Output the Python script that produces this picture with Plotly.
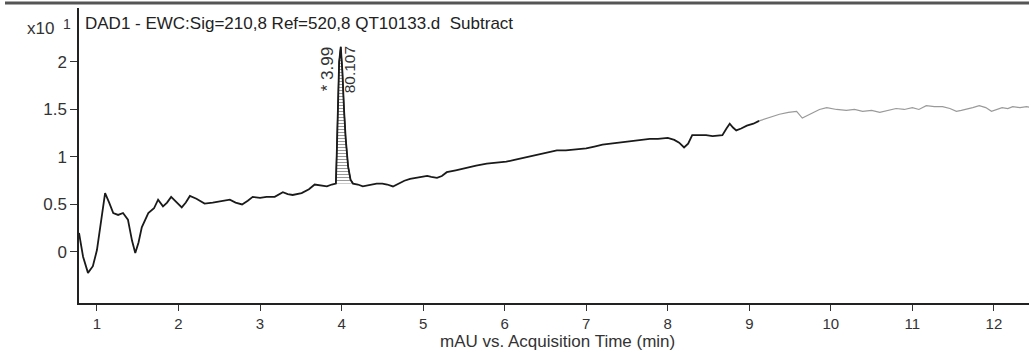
import plotly.graph_objects as go

# Main chromatogram trace (black part), time in min, signal in mAU x10^1
t_black = [0.78, 0.83, 0.89, 0.95, 1.00, 1.05, 1.10, 1.15, 1.20, 1.26, 1.32, 1.38, 1.43, 1.47, 1.51, 1.55,
           1.63, 1.70, 1.75, 1.81, 1.86, 1.91, 1.97, 2.04, 2.09, 2.14, 2.22, 2.32, 2.42, 2.51, 2.63,
           2.70, 2.78, 2.85, 2.91, 3.00, 3.08, 3.18, 3.28, 3.34, 3.40, 3.51, 3.60, 3.67, 3.75, 3.82,
           3.88, 3.93, 3.94, 3.955, 3.97, 3.99, 4.01, 4.03, 4.05, 4.08, 4.11, 4.14, 4.20, 4.26, 4.31,
           4.37, 4.43, 4.50, 4.56, 4.63, 4.70, 4.77, 4.84, 4.91, 4.98, 5.05, 5.10, 5.17, 5.23, 5.29,
           5.40, 5.53, 5.65, 5.78, 5.90, 6.02, 6.12, 6.22, 6.35, 6.47, 6.56, 6.64, 6.75, 6.88, 7.00,
           7.10, 7.20, 7.30, 7.41, 7.50, 7.60, 7.70, 7.78, 7.88, 8.00, 8.08, 8.14, 8.20, 8.25, 8.30,
           8.38, 8.47, 8.55, 8.62, 8.67, 8.72, 8.76, 8.80, 8.84, 8.90, 8.97, 9.05, 9.12]
v_black = [0.20, -0.05, -0.22, -0.15, 0.02, 0.35, 0.62, 0.52, 0.41, 0.39, 0.41, 0.34, 0.12, -0.01, 0.10, 0.26,
           0.41, 0.46, 0.55, 0.48, 0.52, 0.58, 0.53, 0.47, 0.52, 0.59, 0.56, 0.51, 0.52, 0.53, 0.55,
           0.52, 0.50, 0.54, 0.58, 0.57, 0.58, 0.58, 0.63, 0.61, 0.60, 0.62, 0.66, 0.71, 0.70, 0.69,
           0.71, 0.72, 1.00, 1.60, 2.00, 2.16, 1.90, 1.50, 1.20, 0.90, 0.76, 0.72, 0.71, 0.69, 0.70,
           0.71, 0.72, 0.72, 0.71, 0.69, 0.72, 0.75, 0.77, 0.78, 0.79, 0.80, 0.79, 0.78, 0.80, 0.84,
           0.86, 0.89, 0.91, 0.93, 0.94, 0.95, 0.97, 0.99, 1.01, 1.04, 1.05, 1.07, 1.07, 1.08, 1.09,
           1.11, 1.13, 1.14, 1.15, 1.16, 1.17, 1.18, 1.19, 1.19, 1.20, 1.18, 1.15, 1.10, 1.14, 1.23,
           1.23, 1.23, 1.22, 1.23, 1.23, 1.30, 1.35, 1.31, 1.28, 1.30, 1.33, 1.35, 1.38]

# Tail of trace (grey part)
t_grey = [9.12, 9.25, 9.37, 9.48, 9.58, 9.65, 9.72, 9.77, 9.86, 9.95, 10.07, 10.19, 10.29, 10.39, 10.50,
          10.60, 10.70, 10.80, 10.90, 11.00, 11.08, 11.17, 11.27, 11.37, 11.46, 11.54, 11.60, 11.66,
          11.74, 11.82, 11.90, 11.97, 12.04, 12.10, 12.17, 12.23, 12.32, 12.40, 12.45]
v_grey = [1.38, 1.42, 1.45, 1.47, 1.48, 1.41, 1.44, 1.47, 1.50, 1.52, 1.50, 1.49, 1.50, 1.48, 1.49,
          1.47, 1.49, 1.51, 1.50, 1.52, 1.50, 1.54, 1.53, 1.53, 1.51, 1.48, 1.49, 1.50, 1.52, 1.54,
          1.52, 1.48, 1.50, 1.52, 1.51, 1.53, 1.52, 1.53, 1.52]

# Integrated peak region
t_peak = [3.93, 3.94, 3.955, 3.97, 3.99, 4.01, 4.03, 4.05, 4.08, 4.11, 4.14]
v_peak = [0.72, 1.00, 1.60, 2.00, 2.16, 1.90, 1.50, 1.20, 0.90, 0.76, 0.72]
v_base = [0.72] * len(t_peak)

peak_rt = "* 3.99"
peak_area = "80.107"
title_text = "DAD1 - EWC:Sig=210,8 Ref=520,8 QT10133.d  Subtract"
x_title = "mAU vs. Acquisition Time (min)"
x_ticks = [1, 2, 3, 4, 5, 6, 7, 8, 9, 10, 11, 12]
y_ticks = [0, 0.5, 1, 1.5, 2]
y_ticktext = ["0", "0.5", "1", "1.5", "2"]

fig = go.Figure()
fig.add_trace(go.Scatter(x=t_peak, y=v_base, mode="lines", line=dict(width=0, color="rgba(0,0,0,0)"),
                         showlegend=False, hoverinfo="skip"))
fig.add_trace(go.Scatter(x=t_peak, y=v_peak, mode="lines", fill="tonexty",
                         fillcolor="rgba(255,255,255,0)",
                         fillpattern=dict(shape="-", fgcolor="#333", bgcolor="white", size=3, solidity=0.35),
                         line=dict(width=1.2, color="#222"), showlegend=False))
fig.add_trace(go.Scatter(x=t_grey, y=v_grey, mode="lines", line=dict(width=1.2, color="#9a9a9a"),
                         showlegend=False))
fig.add_trace(go.Scatter(x=t_black, y=v_black, mode="lines", line=dict(width=1.8, color="#1a1a1a"),
                         showlegend=False))

font_fam = "Liberation Sans, Arial, sans-serif"
fig.update_layout(
    width=1029, height=352,
    margin=dict(l=79, r=0, t=8, b=49),
    paper_bgcolor="white", plot_bgcolor="white",
    font=dict(family=font_fam, size=15, color="#333"),
    xaxis=dict(range=[0.78, 12.43], tickvals=x_ticks, ticks="outside", ticklen=6, tickwidth=1,
               tickcolor="#333", showline=True, linecolor="#222", linewidth=1.5, showgrid=False,
               zeroline=False, tickfont=dict(size=15, color="#333")),
    yaxis=dict(range=[-0.537, 2.568], tickvals=y_ticks, ticktext=y_ticktext, ticks="outside", ticklen=7,
               tickwidth=1, tickcolor="#333", showline=True, linecolor="#222", linewidth=1.5,
               showgrid=False, zeroline=False, tickfont=dict(size=17, color="#333")),
    annotations=[
        dict(text=title_text, xref="paper", yref="paper", x=0.004, y=0.946, xanchor="left", yanchor="middle",
             showarrow=False, font=dict(size=17, color="#222")),
        dict(text="x10", xref="paper", yref="paper", x=-0.0245, y=0.929, xanchor="right",
             yanchor="middle", showarrow=False, font=dict(size=17, color="#333")),
        dict(text="1", xref="paper", yref="paper", x=-0.0126, y=0.946, xanchor="center",
             yanchor="middle", showarrow=False, font=dict(size=14, color="#333")),
        dict(text=x_title, xref="paper", yref="paper", x=0.504, y=-0.132, xanchor="center",
             yanchor="middle", showarrow=False, font=dict(size=17, color="#333")),
        dict(text=peak_rt, x=3.83, y=1.92, xref="x", yref="y", textangle=-90, showarrow=False,
             font=dict(size=17, color="#333")),
        dict(text=peak_area, x=4.10, y=1.92, xref="x", yref="y", textangle=-90, showarrow=False,
             font=dict(size=15.5, color="#333")),
    ],
    shapes=[dict(type="line", xref="paper", yref="paper", x0=-74 / 950, x1=1.0, y0=1.017, y1=1.017,
                 line=dict(color="#555", width=3))],
)

fig.write_html("out.html")
